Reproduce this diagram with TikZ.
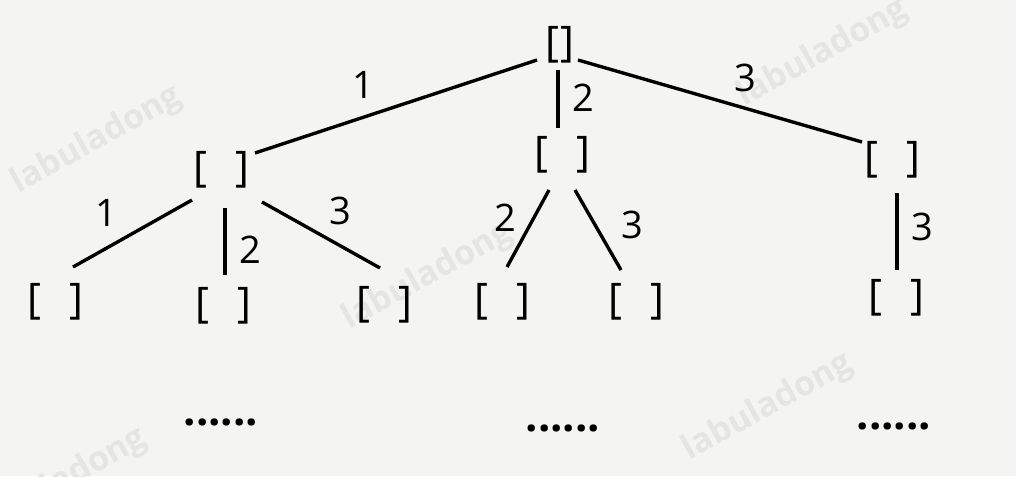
\documentclass[tikz,border=0pt]{standalone}
\usepackage{fontspec}
\setmainfont{Open Sans}
\usetikzlibrary{positioning}

\definecolor{paper}{RGB}{244,244,242}
\definecolor{wmgray}{RGB}{229,229,227}
\newcommand{\nlist}{[\hspace{20pt}]}

\begin{document}
\begin{tikzpicture}[x=0.025cm, y=-0.025cm,
        font=\fontsize{27}{27}\selectfont,
        state/.style={inner sep=0pt, font=\fontsize{30}{30}\selectfont},
        edge/.style={line width=2.4pt},
        num/.style={inner sep=0pt},
        more/.style={inner sep=0pt, font=\fontsize{31}{31}\selectfont\bfseries},
        wmtext/.style={inner sep=0pt, text=wmgray, rotate=29,
            font=\fontsize{24}{24}\selectfont\bfseries}]
        \useasboundingbox (0,0) rectangle (1016,476);
        \fill[paper] (0,0) rectangle (1016,476);
        % watermarks
        \node[wmtext] (wm1) at (97,140) {labuladong};
        \node[wmtext] (wm2) at (823,53) {labuladong};
        \node[wmtext] (wm3) at (428,276) {labuladong};
        \node[wmtext] (wm4) at (768,407) {labuladong};
        \node[wmtext] (wm5) at (62,482) {labuladong};
        % tree
        \node[state] (root) at (560,45) {[\hspace{1pt}]};
        \node[state] (a) at (221,170) {\nlist};
        \node[state] (b) at (562,155) {\nlist};
        \node[state] (c) at (892,160) {\nlist};
        \node[state] (a1) at (55,302) {\nlist};
        \node[state] (a2) at (223,306) {\nlist};
        \node[state] (a3) at (384,305) {\nlist};
        \node[state] (b1) at (502,302) {\nlist};
        \node[state] (b2) at (636,302) {\nlist};
        \node[state] (c1) at (896,298) {\nlist};
        \draw[edge] ([shift={(-23,15)}]root.center) -- ([shift={(34,-17)}]a.center);
        \draw[edge] ([shift={(-2,25)}]root.center) -- ([shift={(-4,-27)}]b.center);
        \draw[edge] ([shift={(18,15)}]root.center) -- ([shift={(-30,-18)}]c.center);
        \draw[edge] ([shift={(-29,30)}]a.center) -- ([shift={(18,-35)}]a1.center);
        \draw[edge] ([shift={(4,38)}]a.center) -- ([shift={(2,-31)}]a2.center);
        \draw[edge] ([shift={(41,32)}]a.center) -- ([shift={(-4,-37)}]a3.center);
        \draw[edge] ([shift={(-13,35)}]b.center) -- ([shift={(5,-35)}]b1.center);
        \draw[edge] ([shift={(13,35)}]b.center) -- ([shift={(-15,-32)}]b2.center);
        \draw[edge] ([shift={(5,33)}]c.center) -- ([shift={(1,-28)}]c1.center);
        % choices
        \node[num] (l1) at (363,85) {1};
        \node[num] (l2) at (583,98) {2};
        \node[num] (l3) at (745,78) {3};
        \node[num] (la1) at (106,213) {1};
        \node[num] (la2) at (250,250) {2};
        \node[num] (la3) at (340,211) {3};
        \node[num] (lb1) at (505,218) {2};
        \node[num] (lb2) at (632,225) {3};
        \node[num] (lc1) at (922,227) {3};
        % deeper levels
        \node[more] (more1) at (221,422) {......};
        \node[more] (more2) at (563,428) {......};
        \node[more] (more3) at (894,426) {......};
    \end{tikzpicture}
\end{document}
